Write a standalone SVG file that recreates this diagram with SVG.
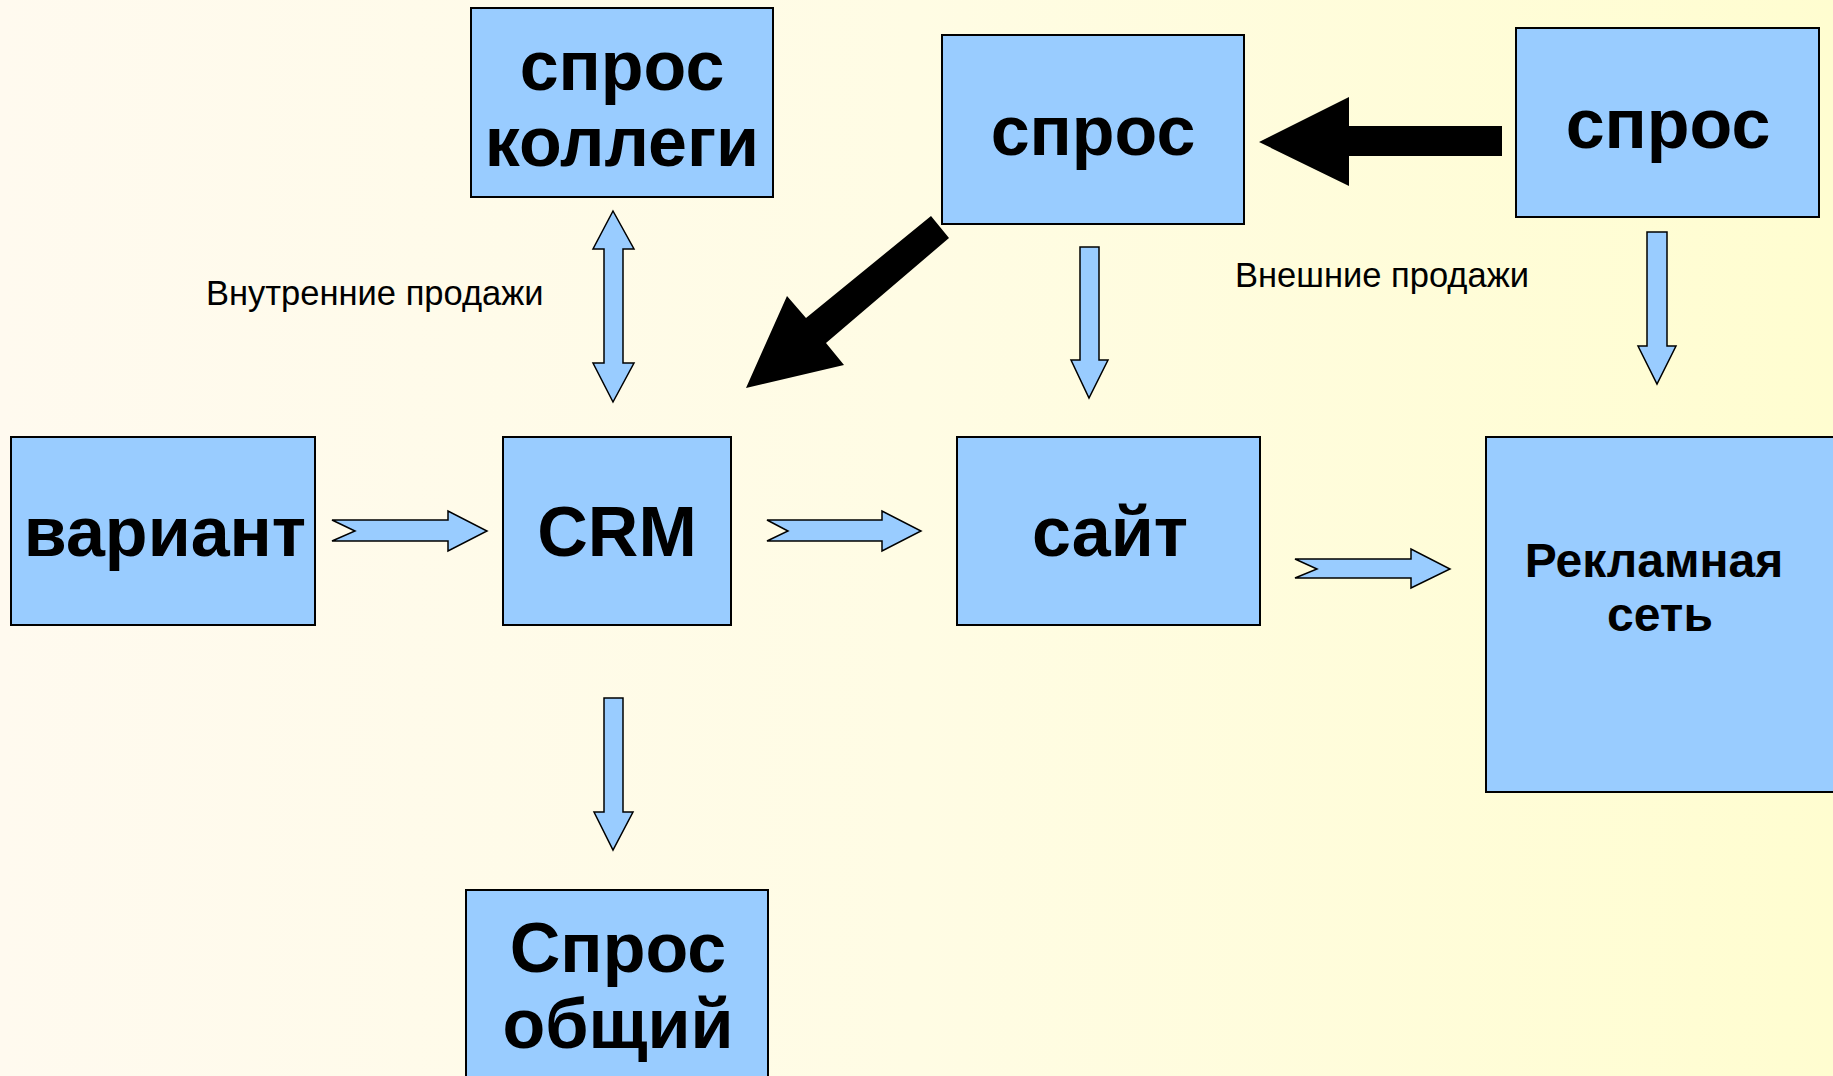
<svg xmlns="http://www.w3.org/2000/svg" width="1833" height="1076" viewBox="0 0 1833 1076">
<defs>
<linearGradient id="bg" x1="0" y1="0" x2="1" y2="0">
<stop offset="0" stop-color="#FFFAEF"/>
<stop offset="0.5" stop-color="#FFFCE4"/>
<stop offset="1" stop-color="#FFFDD0"/>
</linearGradient>
<style>
.box{fill:#99CCFF;stroke:#000;stroke-width:2}
.big{font-family:"Liberation Sans",Arial,sans-serif;font-weight:bold;font-size:70px;fill:#000;text-anchor:middle}
.mid{font-family:"Liberation Sans",Arial,sans-serif;font-weight:bold;font-size:48px;fill:#000;text-anchor:middle}
.lbl{font-family:"Liberation Sans",Arial,sans-serif;font-size:34.5px;fill:#000}
.blue{fill:#99CCFF;stroke:#000;stroke-width:1.5;stroke-linejoin:miter}
.black{fill:#000}
</style>
</defs>
<rect x="0" y="0" width="1833" height="1076" fill="url(#bg)"/>

<g id="node-spros-kollegi">
<rect class="box" x="471" y="8" width="302" height="189"/>
<text class="big" x="622" y="90">спрос</text>
<text class="big" x="622" y="166">коллеги</text>
</g>
<g id="node-spros-mid">
<rect class="box" x="942" y="35" width="302" height="189"/>
<text class="big" x="1093" y="155">спрос</text>
</g>
<g id="node-spros-right">
<rect class="box" x="1516" y="28" width="303" height="189"/>
<text class="big" x="1668" y="148">спрос</text>
</g>
<g id="node-variant">
<rect class="box" x="11" y="437" width="304" height="188"/>
<text class="big" x="165" y="556">вариант</text>
</g>
<g id="node-crm">
<rect class="box" x="503" y="437" width="228" height="188"/>
<text class="big" x="617" y="556">CRM</text>
</g>
<g id="node-sait">
<rect class="box" x="957" y="437" width="303" height="188"/>
<text class="big" x="1110" y="556">сайт</text>
</g>
<g id="node-reklama">
<rect class="box" x="1486" y="437" width="360" height="355"/>
<text class="mid" x="1654" y="577">Рекламная</text>
<text class="mid" x="1660" y="631">сеть</text>
</g>
<g id="node-spros-obshchiy">
<rect class="box" x="466" y="890" width="302" height="200"/>
<text class="big" x="618" y="972">Спрос</text>
<text class="big" x="618" y="1048">общий</text>
</g>

<g id="labels">
<text class="lbl" x="206" y="305">Внутренние продажи</text>
<text class="lbl" x="1235" y="287">Внешние продажи</text>
</g>

<g id="connectors">
<polygon class="blue" points="613,211 634,249 623,249 623,363 634,363 613,402 593,363 604,363 604,249 593,249"/>
<polygon class="black" points="931,216 949,238 826,343 844,365 746,388 787,296 806,318"/>
<polygon class="black" points="1259,142 1349,97 1349,126 1502,126 1502,156 1349,156 1349,186"/>
<polygon class="blue" points="1080,247 1099,247 1099,360 1108,360 1089,398 1071,360 1080,360"/>
<polygon class="blue" points="1647,232 1667,232 1667,346 1676,346 1657,384 1638,346 1647,346"/>
<polygon class="blue" points="332,520 448,520 448,511 487,531 448,551 448,541 332,541 355,531"/>
<polygon class="blue" points="767,520 882,520 882,511 921,531 882,551 882,541 767,541 788,531"/>
<polygon class="blue" points="604,698 623,698 623,812 633,812 613,850 594,812 604,812"/>
<polygon class="blue" points="1295,559 1411,559 1411,549 1450,569 1411,588 1411,578 1295,578 1317,569"/>
</g>
</svg>
